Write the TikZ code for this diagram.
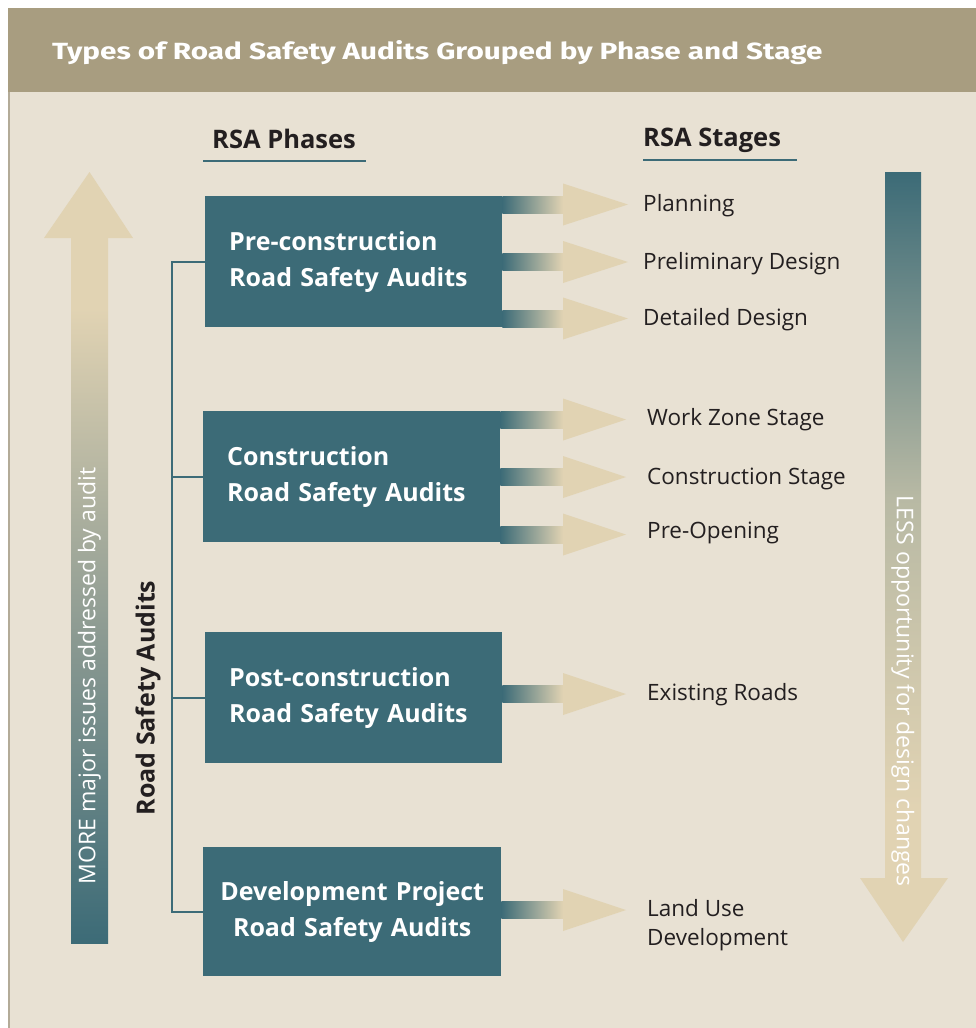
\documentclass[tikz,border=0pt]{standalone}
\usepackage{fontspec}
\usepackage{graphicx}
\setmainfont{Open Sans}
\newfontfamily\titlefont{Fira Sans}
\definecolor{tealc}{HTML}{3C6B77}
\definecolor{tanc}{HTML}{E1D3B3}
\definecolor{bgc}{HTML}{E8E1D3}
\definecolor{barc}{HTML}{A89D80}
\definecolor{textc}{HTML}{231F20}
\definecolor{edgec}{HTML}{B3AB98}
\pgfdeclareverticalshading{upshade}{100bp}{color(0bp)=(tealc); color(25bp)=(tealc); color(45bp)=(tanc!45!tealc!85!gray); color(70bp)=(tanc); color(100bp)=(tanc)}
\pgfdeclareverticalshading{downshade}{100bp}{color(0bp)=(tanc); color(30bp)=(tanc); color(52bp)=(tanc!75!tealc); color(75bp)=(tealc); color(100bp)=(tealc)}
\pgfdeclarehorizontalshading{rightshade}{100bp}{color(0bp)=(tealc); color(25bp)=(tealc); color(75bp)=(tanc); color(100bp)=(tanc)}
\begin{document}
\begin{tikzpicture}[x=1pt,y=-1pt,
  box/.style={fill=tealc, text=white, font=\fontsize{25}{36}\selectfont\bfseries, minimum width=297pt, minimum height=131pt, inner xsep=24pt, anchor=north west, text width=249pt},
  conn/.style={draw=tealc, line width=2pt},
  stage/.style={text=textc, font=\fontsize{22.5}{29}\selectfont, anchor=west, inner sep=0pt, align=left},
  head/.style={text=textc, font=\fontsize{25.5}{28}\selectfont\bfseries, anchor=base west, inner sep=0pt},
  uline/.style={draw=tealc, line width=2.2pt}]
\useasboundingbox (0,0) rectangle (976,1028);
% background
\fill[white] (0,0) rectangle (976,1028);
\fill[bgc] (8,8) rectangle (976,1028);
\fill[barc] (8,8) rectangle (976,92);
\draw[edgec, line width=1.5pt] (8.75,92) -- (8.75,1028);
\node[anchor=base west, inner sep=0pt, text=white] (title) at (52,59)
  {\resizebox{770pt}{19pt}{\titlefont\bfseries Types of Road Safety Audits Grouped by Phase and Stage}};
% headers
\node[head] (hph) at (212,148) {RSA Phases};
\node[head] (hst) at (643,146) {RSA Stages};
\draw[uline] (203,161) -- (366,161);
\draw[uline] (643,160) -- (797,160);
% big arrows
\path[shading=upshade] (71,238) rectangle (108,943);
\fill[tanc] (44,238) -- (89.5,172) -- (133,238) -- cycle;
\node[rotate=90, text=white, font=\fontsize{23}{26}\selectfont] (more) at (89.5,676) {MORE major issues addressed by audit};
\path[shading=downshade] (885,172) rectangle (921,878);
\fill[tanc] (860,878) -- (903,942) -- (948,878) -- cycle;
\node[rotate=-90, text=white, font=\fontsize{23}{26}\selectfont] (less) at (903,691) {LESS opportunity for design changes};
% boxes
\node[box, align=left] (b1) at (205,196) {Pre-construction\\Road Safety Audits};
\node[box, align=left] (b2) at (203,411) {Construction\\Road Safety Audits};
\node[box, align=left] (b3) at (205,632) {Post-construction\\Road Safety Audits};
\node[box, align=center, minimum width=298pt, minimum height=129pt, inner xsep=8pt, text width=282pt] (b4) at (203,847) {Development Project\\Road Safety Audits};
% spine
\coordinate (sp) at (172,500);
\node[rotate=90, text=textc, font=\fontsize{25}{28}\selectfont\bfseries] (rsa) at (148,698) {Road Safety Audits};
\draw[conn] (b1.west) -- (b1.west -| sp) -- (b4.west -| sp) -- (b4.west);
\draw[conn] (b2.west) -- (b2.west -| sp);
\draw[conn] (b3.west) -- (b3.west -| sp);
% stage labels
\node[stage] (s1) at (643,206) {Planning};
\node[stage] (s2) at (643,264) {Preliminary Design};
\node[stage] (s3) at (643,320) {Detailed Design};
\node[stage] (s4) at (647,420) {Work Zone Stage};
\node[stage] (s5) at (647,479) {Construction Stage};
\node[stage] (s6) at (647,533) {Pre-Opening};
\node[stage] (s7) at (647,695) {Existing Roads};
\node[stage] (s8) at (647,925.5) {Land Use\\Development};
% small arrows
\newcommand{\stagearrow}[4]{%
  \path[shading=rightshade] (#1.east |- 0,#2-8.5) rectangle (563,#2+8.5);
  \fill[tanc] (563,#2-21) -- (#3,#2) -- (563,#2+21) -- cycle;
  \coordinate (#4) at (#3,#2);
}
\stagearrow{b1}{204.5}{628}{t1}
\stagearrow{b1}{262}{628}{t2}
\stagearrow{b1}{318.5}{628}{t3}
\stagearrow{b2}{419.5}{626}{t4}
\stagearrow{b2}{477}{626}{t5}
\stagearrow{b2}{534.5}{626}{t6}
\stagearrow{b3}{694}{626}{t7}
\stagearrow{b4}{910}{626}{t8}
\end{tikzpicture}
\end{document}
